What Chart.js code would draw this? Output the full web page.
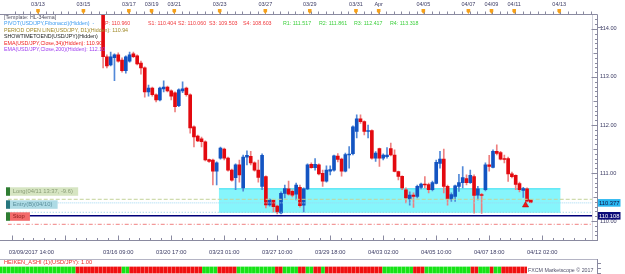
<!DOCTYPE html>
<html>
<head>
<meta charset="utf-8">
<script src="https://cdn.jsdelivr.net/npm/chart.js@4.4.0/dist/chart.umd.min.js"></script>
<style>
  body{margin:0;background:#fff}
  canvas{display:block}
</style>
</head>
<body>
<canvas id="precio" width="625" height="258"></canvas>
<canvas id="heiken" width="625" height="16"></canvas>
<script>
// USD/JPY H4 - velas desde el hueco 25 (la vela del 03/15)
const primerHueco = 25

const aperturas = [114.81,113.42,113.25,113.40,113.46,113.35,113.13,113.33,113.48,113.44,
  113.29,113.19,112.69,112.77,112.63,112.52,112.75,112.79,112.71,112.67,
  112.40,112.71,112.77,112.63,111.96,111.77,111.71,111.65,111.28,111.27,
  111.04,111.31,111.50,111.31,111.06,110.90,111.17,110.69,111.33,111.345,
  111.21,111.06,110.72,110.925,110.335,110.43,110.31,110.17,110.575,110.67,
  110.62,110.56,110.70,110.33,110.67,111.18,111.11,111.17,110.99,110.83,
  111.04,111.06,111.35,111.29,111.04,111.375,111.40,111.865,112.125,112.07,
  111.865,111.885,111.31,111.51,111.31,111.34,111.51,111.375,111.03,110.93,
  110.65,110.46,110.54,110.51,110.70,110.77,110.76,110.65,110.78,111.20,
  111.29,110.72,110.46,110.51,110.72,110.80,110.885,110.80,110.925,110.54,
  110.55,110.65,111.17,111.115,111.45,111.425,111.30,111.30,110.98,110.95,
  110.78,110.635,110.67,110.44]
const maximos = [114.92,113.46,113.52,113.48,113.50,113.40,113.44,113.52,113.52,113.46,
  113.33,113.21,112.83,112.79,112.65,112.79,112.92,112.81,112.73,112.69,
  112.75,112.90,112.79,112.65,111.98,111.79,111.75,111.67,111.29,111.29,
  111.23,111.54,111.52,111.33,111.08,111.19,111.27,111.375,111.46,111.45,
  111.23,111.27,111.40,110.94,110.46,110.44,110.33,110.605,110.75,110.83,
  110.65,110.79,110.75,110.69,111.19,111.21,111.30,111.19,111.06,111.15,
  111.15,111.375,111.405,111.31,111.415,111.55,111.98,112.21,112.21,112.085,
  112.00,111.90,111.445,111.52,111.40,111.53,111.625,111.48,111.04,110.94,
  110.69,110.605,110.585,110.75,110.79,110.925,110.79,110.83,111.27,111.45,
  111.50,110.75,110.585,110.75,110.97,111.135,110.96,111.06,110.96,110.72,
  110.575,111.21,111.365,111.48,111.585,111.45,111.375,111.33,111.02,110.96,
  110.81,110.70,110.69,110.45]
const minimos = [113.19,113.19,113.23,112.92,113.31,113.10,113.08,113.31,113.40,113.25,
  113.06,112.58,112.60,112.60,112.48,112.50,112.69,112.69,112.52,112.27,
  112.38,112.67,112.60,111.83,111.54,111.65,111.54,111.25,111.22,110.75,
  110.75,111.29,111.27,111.04,110.83,110.65,110.81,110.62,111.17,111.17,
  111.04,110.81,110.65,110.27,110.31,110.19,110.145,110.145,110.48,110.54,
  110.50,110.44,110.29,110.19,110.65,111.10,111.06,110.96,110.72,110.81,
  110.96,111.04,111.23,110.935,111.02,111.10,111.375,111.73,112.03,111.79,
  111.73,111.29,111.24,111.135,111.27,111.31,111.355,111.02,110.855,110.65,
  110.375,110.33,110.28,110.48,110.67,110.69,110.585,110.625,110.77,111.10,
  110.585,110.33,110.405,110.405,110.615,110.69,110.75,110.78,110.165,110.44,
  110.16,110.625,111.04,111.105,111.375,111.27,111.21,110.825,110.895,110.65,
  110.605,110.49,110.395,110.375]
const cierres = [113.42,113.23,113.42,113.46,113.33,113.13,113.42,113.46,113.42,113.27,
  113.19,112.69,112.77,112.63,112.52,112.77,112.79,112.71,112.60,112.38,
  112.73,112.75,112.63,111.94,111.75,111.67,111.65,111.27,111.24,111.04,
  111.21,111.52,111.31,111.06,110.85,111.17,110.96,111.33,111.365,111.21,
  111.06,110.905,111.365,110.335,110.44,110.30,110.19,110.575,110.675,110.56,
  110.54,110.75,110.32,110.67,111.17,111.11,111.18,110.98,110.83,111.06,
  111.07,111.355,111.28,111.04,111.385,111.395,111.96,112.125,112.07,111.865,
  111.885,111.31,111.415,111.31,111.375,111.375,111.375,111.03,110.93,110.69,
  110.48,110.54,110.51,110.72,110.77,110.75,110.65,110.80,111.22,111.29,
  110.72,110.46,110.55,110.73,110.80,110.905,110.80,110.95,110.53,110.67,
  110.53,111.17,111.135,111.45,111.405,111.29,111.28,110.98,110.925,110.76,
  110.65,110.675,110.415,110.385]

// eje superior (dias) y eje inferior (horas), en huecos de 4 horas
const fechasArriba = ['03/13','03/15','03/17','03/19','03/21','03/23','03/27','03/29','03/31','Apr','04/05','04/07','04/09','04/11','04/13']
const huecosArriba = [7.8,19.8,31.8,37.8,43.8,55.8,67.85,79.6,91.8,97.8,109.6,121.5,127.6,133.6,145.5]
const horasAbajo = ['03/09/2017 14:00','03/16 09:00','03/20 17:00','03/23 01:00','03/27 10:00','03/29 18:00','04/03 02:00','04/05 10:00','04/07 18:00','04/12 02:00']
const huecosAbajo = [6.05,29,43,57,71,85,99,113,127,141]

// niveles horizontales
const nivelLong = 110.452
const nivelActual = 110.377
const nivelEntry = 110.181
const nivelAzul = 110.108
const nivelStop = 109.931

// zona cyan
const zonaDesde = 55.6, zonaHasta = 145.8
const zonaArriba = 110.68, zonaAbajo = 110.17

// flecha de la orden
const entradaHueco = 136.6, entradaPrecio = 110.33

// pivotes del texto de arriba
const pivotNombres = ['P','S1','S2','S3','S4','R1','R2','R3','R4']
const pivotValores = ['110.960','110.404','110.060','109.503','108.603','111.517','111.861','112.417','113.318']

// colores heiken ashi por hueco (G verde, R rojo)
const heikenColores = ('GGGGGGGGGGGGGGGGGGGG' + 'RRRRRRRRRRRR' + 'GG' + 'RRRRRRRRRRRRRRRRRRR' +
  'GGGG' + 'RRRRR' + 'GGGGGGGGGG' + 'RR' + 'GGGG' + 'RRGGRRG' + 'RRRRRRRRRRRRRRR' +
  'GGGGGGGG' + 'RRR' + 'GGGGGGGGGGGG' + 'RRGGGRGG' + 'RRRRRRR').split('')

const xMin = -0.2, xMax = 154.42
const yMin = 109.604, yMax = 114.29

const rojo = '#e3090f', azul = '#1354c2'
const rojoMecha = '#ee8080', azulMecha = '#5289d8'
const gris = '#8a8aa0'
const letraEje = '#3c3c64'
Chart.defaults.font.family = 'Liberation Sans'

const velas = aperturas.map((o, i) => ({x: primerHueco + i, o: o, h: maximos[i], l: minimos[i], c: cierres[i]}))
const colorVela = velas.map(v => v.c >= v.o ? azul : rojo)
const colorMecha = velas.map(v => v.c >= v.o ? azulMecha : rojoMecha)

function nivel(p, color, dash, ancho){
  return {type:'line', data:[{x:xMin, y:p},{x:xMax, y:p}], borderColor:color, borderDash:dash,
    borderWidth:ancho, pointRadius:0, order:0}
}

function raya(ctx, x1, y1, x2, y2){
  ctx.beginPath(); ctx.moveTo(x1, y1); ctx.lineTo(x2, y2); ctx.stroke()
}

const adornos = {
  id:'adornos',
  beforeDatasetsDraw(chart){
    const {ctx, scales:{x, y}} = chart
    const x1 = x.getPixelForValue(zonaDesde), x2 = x.getPixelForValue(zonaHasta)
    const y1 = y.getPixelForValue(zonaArriba), y2 = y.getPixelForValue(zonaAbajo)
    ctx.save()
    ctx.fillStyle = '#86f5fc'
    ctx.fillRect(x1, y1, x2 - x1, y2 - y1)
    ctx.fillStyle = '#45e2f2'
    ctx.fillRect(x1, y1, x2 - x1, 1)
    ctx.restore()
  },
  afterDraw(chart){
    const {ctx, chartArea:a, scales:{x, y}} = chart
    ctx.save()
    ctx.lineWidth = 1

    // borde derecho del area
    ctx.strokeStyle = '#d0d0da'
    raya(ctx, a.right - 0.5, a.top, a.right - 0.5, a.bottom)

    ctx.strokeStyle = gris
    // regla de arriba
    raya(ctx, 0, 14.5, 597.5, 14.5)
    for (let s = 1.8; s < xMax; s += 2){
      const px = Math.round(x.getPixelForValue(s)) + 0.5
      raya(ctx, px, 11.5, px, 14.5)
    }
    // regla de abajo
    raya(ctx, 0, 240.5, 597.5, 240.5)
    for (let i = 0; 1 + i * 2.8 < xMax; i++){
      const px = Math.round(x.getPixelForValue(1 + i * 2.8)) + 0.5
      raya(ctx, px, i % 5 === 0 ? 235.5 : 238, px, 240.5)
    }
    // eje de precios
    raya(ctx, 597.5, 14.5, 597.5, 241)
    raya(ctx, 597.5, 27.5, 603, 27.5)
    for (let i = 1097; i <= 1142; i++){
      const py = Math.round(y.getPixelForValue(i / 10)) + 0.5
      const largo = i % 10 === 0 ? 6 : (i % 5 === 0 ? 4 : 2.5)
      raya(ctx, 597.5 - largo, py, 597.5, py)
    }

    // marcas naranjas de los dias
    ctx.fillStyle = '#f5a01a'
    huecosArriba.forEach(s => {
      const px = x.getPixelForValue(s)
      ctx.beginPath()
      ctx.moveTo(px - 1.8, 9); ctx.lineTo(px + 1.8, 9); ctx.lineTo(px + 1.8, 11.5)
      ctx.lineTo(px, 14); ctx.lineTo(px - 1.8, 11.5); ctx.closePath(); ctx.fill()
    })

    // texto de indicadores arriba a la izquierda
    ctx.font = '5.3px Liberation Sans'
    ctx.textBaseline = 'middle'
    ctx.textAlign = 'left'
    ctx.fillStyle = '#505060'; ctx.fillText('[Template: HL-34ema]', 4, 17.4)
    ctx.fillStyle = '#3d9cf0'; ctx.fillText('PIVOT(USD/JPY,Fibonacci)(Hidden)  -', 4, 23.9)
    const pivotX = [105,148,178,209,243,283,319,354,390]
    pivotNombres.forEach((n, i) => {
      ctx.fillStyle = n[0] === 'R' ? '#3ccf3c' : '#f0383c'
      ctx.fillText(n + ': ' + pivotValores[i], pivotX[i], 23.9)
    })
    ctx.fillStyle = '#a08828'; ctx.fillText('PERIOD OPEN LINE(USD/JPY, D1)(Hidden): 110.94', 4, 30.5)
    ctx.fillStyle = '#202020'; ctx.fillText('SHOWTIMETOEND(USD/JPY)(Hidden)', 4, 37)
    ctx.fillStyle = '#f02020'; ctx.fillText('EMA(USD/JPY,Close,34)(Hidden): 110.90', 4, 43.4)
    ctx.fillStyle = '#a040f0'; ctx.fillText('EMA(USD/JPY,Close,200)(Hidden): 112.10', 4, 49.7)

    // etiquetas de la orden a la izquierda
    const etiquetas = [
      {texto:'Long(04/11 13:37, -9.6)', p:nivelLong, fondo:'#d6e5c2', letra:'#8a9c76', marca:'#2f7d32'},
      {texto:'Entry(B)(04/10)', p:nivelEntry, fondo:'#aedbe5', letra:'#5b8f9c', marca:'#26767e'},
      {texto:'Stop', p:nivelStop, fondo:'#f36b6b', letra:'#8b1a1a', marca:'#2f7d32'}
    ]
    ctx.font = '5.8px Liberation Sans'
    etiquetas.forEach(e => {
      const abajo = y.getPixelForValue(e.p) - 3.5
      const ancho = ctx.measureText(e.texto).width + 8
      ctx.fillStyle = e.fondo; ctx.fillRect(10, abajo - 8.5, ancho, 8.5)
      ctx.fillStyle = e.marca; ctx.fillRect(6, abajo - 8.5, 4, 8.5)
      ctx.fillStyle = e.letra; ctx.fillText(e.texto, 12.7, abajo - 4.1)
    })

    // etiquetas de precio a la derecha
    const tags = [[nivelActual, '#29b6f0', '#101040'], [nivelAzul, '#0a0a78', '#ffffff']]
    tags.forEach(t => {
      const py = y.getPixelForValue(t[0])
      ctx.fillStyle = t[1]; ctx.fillRect(598, py - 3.8, 22.5, 7.6)
      ctx.fillStyle = t[2]; ctx.fillText(t[0].toFixed(3), 599, py + 0.3)
    })
    ctx.restore()
  }
}

new Chart(document.getElementById('precio'), {
  type:'bar',
  data:{
    datasets:[
      {type:'line', data:[{x:entradaHueco, y:entradaPrecio}], showLine:false, pointStyle:'triangle',
        pointRadius:3.6, backgroundColor:'#f01818', borderColor:'#b00000', borderWidth:0.5, order:0},
      nivel(nivelLong, '#c4d39a', [4,2], 1),
      nivel(nivelActual, '#9fd6f2', [1,1], 1),
      nivel(nivelEntry, '#8fcbe0', [1,2], 1),
      nivel(nivelAzul, '#00007a', [], 1.5),
      nivel(nivelStop, '#f08080', [4,2,1,2], 1),
      {label:'cuerpos', data:velas.map(v => ({x:v.x, y:[Math.min(v.o, v.c), Math.max(v.o, v.c)]})),
        backgroundColor:colorVela, barThickness:3, grouped:false, order:1},
      {label:'mechas', data:velas.map(v => ({x:v.x, y:[v.l, v.h]})),
        backgroundColor:colorMecha, barThickness:1, grouped:false, order:2}
    ]
  },
  options:{
    responsive:false,
    animation:false,
    layout:{padding:0},
    plugins:{legend:{display:false}, tooltip:{enabled:false}},
    scales:{
      x:{type:'linear', position:'bottom', min:xMin, max:xMax, offset:false,
        grid:{display:false, drawTicks:false}, border:{display:false},
        afterFit(s){ s.height = 18 },
        afterBuildTicks(s){ s.ticks = huecosAbajo.map(v => ({value:v})) },
        ticks:{autoSkip:false, maxRotation:0, padding:8.5, color:letraEje, font:{size:5.8},
          callback:(v, i) => horasAbajo[i]}},
      xTop:{type:'linear', position:'top', min:xMin, max:xMax, offset:false,
        grid:{display:false, drawTicks:false}, border:{display:false},
        afterFit(s){ s.height = 15 },
        afterBuildTicks(s){ s.ticks = huecosArriba.map(v => ({value:v})) },
        ticks:{autoSkip:false, maxRotation:0, padding:7, color:letraEje, font:{size:5.5},
          callback:(v, i) => fechasArriba[i]}},
      y:{type:'linear', position:'right', min:yMin, max:yMax,
        grid:{display:false, drawTicks:false}, border:{display:false},
        afterFit(s){ s.width = 32 },
        ticks:{stepSize:1, includeBounds:false, padding:7, color:letraEje, font:{size:5.6},
          callback:v => v.toFixed(2)}}
    }
  },
  plugins:[adornos]
})

// panel de abajo: heiken ashi
const panelHeiken = {
  id:'panelHeiken',
  afterDraw(chart){
    const ctx = chart.ctx
    ctx.save()
    ctx.lineWidth = 1
    ctx.strokeStyle = '#b4b4c4'
    raya(ctx, 0, 1.5, 597.5, 1.5)
    ctx.strokeStyle = gris
    raya(ctx, 597.5, 1, 597.5, 16)
    raya(ctx, 597.5, 5.5, 601, 5.5)
    raya(ctx, 597.5, 10.5, 601, 10.5)
    raya(ctx, 597.5, 15.5, 601, 15.5)
    ctx.font = '5.7px Liberation Sans'
    ctx.textBaseline = 'middle'
    ctx.fillStyle = '#ee2a2a'
    ctx.fillText('HEIKEN_ASHI (1)(USD/JPY): 1.00', 4, 4.8)
    ctx.fillStyle = '#ffffff'
    ctx.fillRect(527, 8, 66, 8)
    ctx.font = '5.3px Liberation Sans'
    ctx.fillStyle = '#50506a'
    ctx.fillText('FXCM Marketscope \u00a9 2017', 528, 12.2)
    ctx.restore()
  }
}

new Chart(document.getElementById('heiken'), {
  type:'bar',
  data:{
    datasets:[{data:heikenColores.map((c, i) => ({x:i, y:1})),
      backgroundColor:heikenColores.map(c => c === 'G' ? '#16e316' : '#f01010'),
      barThickness:3, grouped:false}]
  },
  options:{
    responsive:false,
    animation:false,
    layout:{padding:{left:0, right:32, top:8.5, bottom:0.5}},
    plugins:{legend:{display:false}, tooltip:{enabled:false}},
    scales:{
      x:{type:'linear', min:xMin, max:xMax, offset:false, display:false},
      y:{min:0, max:1, display:false}
    }
  },
  plugins:[panelHeiken]
})
</script>
</body>
</html>
